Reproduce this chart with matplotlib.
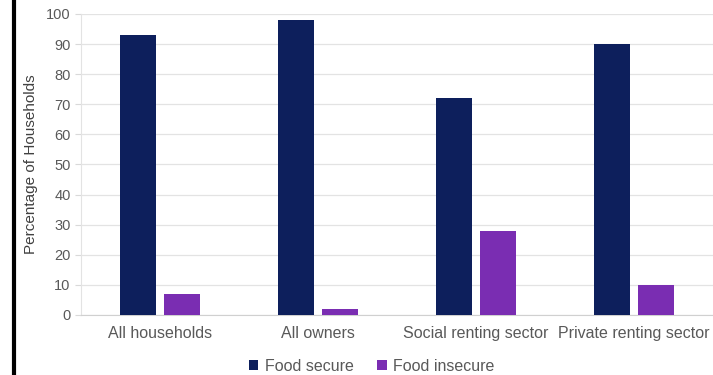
import numpy as np
import matplotlib.pyplot as plt
from matplotlib.lines import Line2D

plt.rcParams['font.family'] = ['Liberation Sans', 'DejaVu Sans']

categories = ['All households', 'All owners', 'Social renting sector', 'Private renting sector']
food_secure = [93, 98, 72, 90]
food_insecure = [7, 2, 28, 10]

dark = '#0d1f5c'
purple = '#7a2db2'
txt = '#595959'

fig = plt.figure(figsize=(7.13, 3.75), dpi=100)
ax = fig.add_axes([0.1136, 0.16, 0.8864, 0.8027])

x = np.arange(len(categories))
w = 0.225
ax.bar(x - 0.14, food_secure, w, color=dark, label='Food secure', zorder=3)
ax.bar(x + 0.14, food_insecure, w, color=purple, label='Food insecure', zorder=3)

ax.set_xlim(-0.5, 3.5)
ax.set_ylim(0, 100)
ax.set_yticks(range(0, 101, 10))
ax.set_xticks(x)
ax.set_xticklabels(categories, fontsize=11.5, color=txt)
ax.tick_params(axis='y', labelsize=10.5, labelcolor=txt, color='#d9d9d9', length=4)
ax.tick_params(axis='x', length=0, pad=8)
ax.grid(axis='y', color='#e3e3e3', linewidth=0.9, zorder=0)
for s in ['top', 'right']:
    ax.spines[s].set_visible(False)
ax.spines['left'].set_color('#e3e3e3')
ax.spines['bottom'].set_color('#d0d0d0')
ax.set_ylabel('Percentage of Households', fontsize=11, color='#404040', labelpad=6)

ax.legend(loc='upper center', bbox_to_anchor=(0.46, -0.108), ncol=2, frameon=False,
          fontsize=11.5, labelcolor=txt, handlelength=0.6, handleheight=0.6,
          handletextpad=0.4, columnspacing=1.5, borderpad=0.2)

# vertical black rule at the left edge
fig.add_artist(Line2D([0.02, 0.02], [0, 1], color='black', linewidth=3, transform=fig.transFigure))

fig.savefig('out.png', dpi=100)
